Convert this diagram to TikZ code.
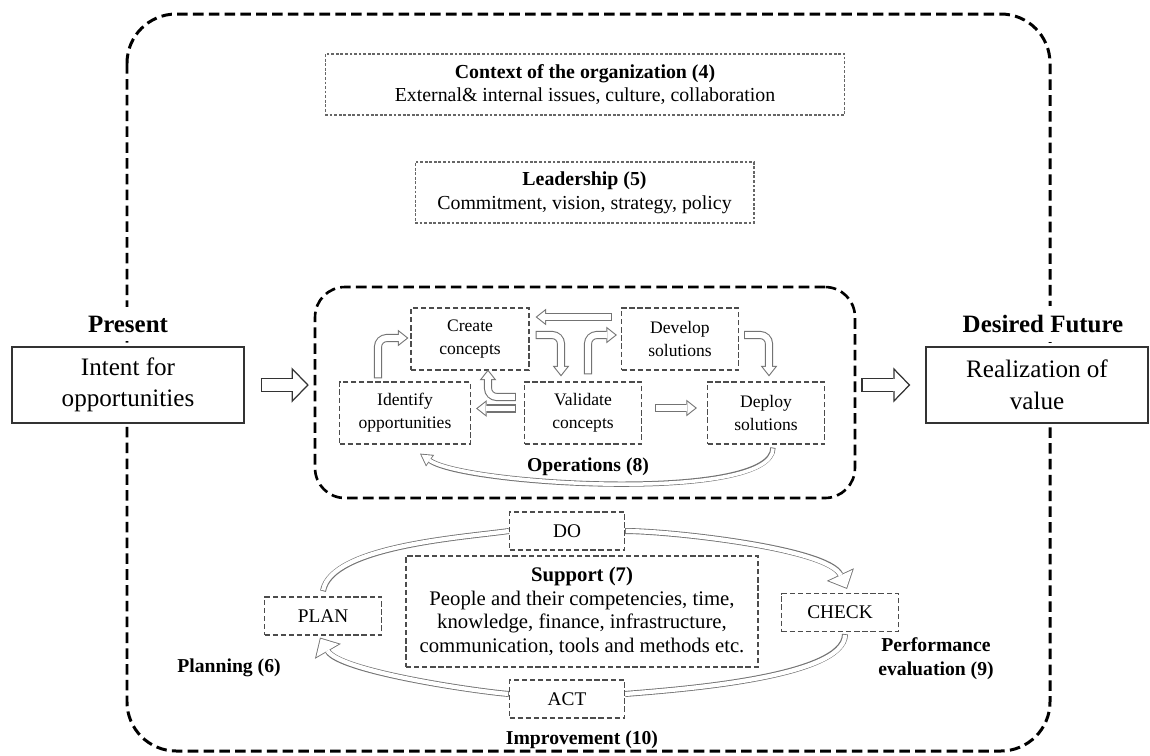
\documentclass[tikz,border=0pt]{standalone}
\usepackage{fontspec}
\setmainfont{Liberation Serif}
\usetikzlibrary{arrows.meta,calc}

% draws a hollow arrow: outer stroke, then white inside
\newcommand{\hollow}[2]{\draw[#1out] #2; \draw[#1in] #2;}

\begin{document}
\begin{tikzpicture}[x=0.02cm, y=-0.02cm,
    frame/.style={line width=1.7pt, dash pattern=on 6pt off 3pt, rounded corners=28pt},
    opsbox/.style={draw, line width=1.5pt, dash pattern=on 6pt off 3pt, rounded corners=17pt, minimum width=10.8cm, minimum height=4.22cm},
    box/.style={draw=black!70, line width=.7pt, dash pattern=on 3pt off 1.6pt, fill=white, align=center, font=\fontsize{10}{13}\selectfont, minimum height=1.24cm},
    ctxbox/.style={draw=black!60, line width=.6pt, dash pattern=on 1.6pt off 1pt, align=center, font=\fontsize{11.3}{13.6}\selectfont, minimum height=1.22cm},
    solidbox/.style={draw=black!80, line width=.8pt, fill=white, align=center, font=\fontsize{14.3}{18}\selectfont, minimum height=1.52cm},
    cyc/.style={box, font=\fontsize{11}{13}\selectfont, minimum width=2.3cm, minimum height=.76cm},
    lbl/.style={font=\bfseries\fontsize{11.2}{13.6}\selectfont, align=center},
    ttl/.style={font=\bfseries\fontsize{14.2}{17}\selectfont, fill=white, inner ysep=5pt},
    opsout/.style={draw=black!55, line width=4.6pt, rounded corners=5pt, -{Triangle[length=6pt, width=9.5pt, line width=0pt]}},
    opsin/.style={draw=white, line width=3.4pt, rounded corners=5pt, shorten <=.6pt, shorten >=.97pt, -{Triangle[length=4.43pt, width=7.02pt, line width=0pt]}},
    loopout/.style={draw=black!55, line width=3pt, -{Triangle[length=7pt, width=8pt, line width=0pt]}},
    loopin/.style={draw=white, line width=2pt, shorten <=.5pt, shorten >=1.01pt, -{Triangle[length=5.49pt, width=6.27pt, line width=0pt]}},
    cycout/.style={draw=black!55, line width=3.4pt, -{Triangle[length=9pt, width=17pt, line width=0pt]}},
    cycin/.style={draw=white, line width=2.4pt, shorten <=.5pt, shorten >=.73pt, -{Triangle[length=7.77pt, width=14.68pt, line width=0pt]}},
    bandout/.style={draw=black!55, line width=3.4pt},
    bandin/.style={draw=white, line width=2.4pt, shorten <=.5pt},
    bigout/.style={draw=black!80, line width=8.5pt, -{Triangle[length=9.7pt, width=20pt, line width=0pt]}},
    bigin/.style={draw=white, line width=6.9pt, shorten <=.8pt, shorten >=1.11pt, -{Triangle[length=7.79pt, width=16.06pt, line width=0pt]}}]
    \useasboundingbox (0,0) rectangle (1150,755);
    \draw[frame] (127,14) rectangle (1050,751);

    \node[ctxbox, minimum width=10.4cm] (ctx) at (585,84.5) {\textbf{Context of the organization (4)}\\External\& internal issues, culture, collaboration};
    \node[ctxbox, minimum width=6.78cm] (lead) at (584.5,192.5) {\textbf{Leadership (5)}\\Commitment, vision, strategy, policy};

    \node[solidbox, minimum width=4.64cm] (intent) at (128,385) {Intent for\\opportunities};
    \node[solidbox, minimum width=4.44cm] (real) at (1037,385) {Realization of\\value};
    \node[ttl] (present) at (128,324) {Present};
    \node[ttl] (future) at (1043,324) {Desired Future};

    \node[opsbox] (ops) at (585,392.5) {};
    \node[box, minimum width=2.36cm] (create) at (470,339) {Create\\concepts};
    \node[box, minimum width=2.34cm] (develop) at (680,339) {Develop\\solutions};
    \node[box, minimum width=2.62cm] (identify) at (405,413) {Identify\\opportunities};
    \node[box, minimum width=2.34cm] (validate) at (583,413) {Validate\\concepts};
    \node[box, minimum width=2.34cm] (deploy) at (766,413) {Deploy\\solutions};
    \node[lbl] (opslbl) at (588,467) {Operations (8)};

    \node[box, minimum width=7.04cm, minimum height=2.22cm, font=\fontsize{11.8}{13.5}\selectfont] (support) at (582,611.5) {\textbf{Support (7)}\\People and their competencies, time,\\knowledge, finance, infrastructure,\\communication, tools and methods etc.};
    \node[cyc] (do) at (567,531) {DO};
    \node[cyc, minimum width=2.34cm] (plan) at (323,616) {PLAN};
    \node[cyc, minimum width=2.34cm] (check) at (840,612.5) {CHECK};
    \node[cyc] (act) at (567,699) {ACT};
    \node[lbl] (planlbl) at (229,668) {Planning (6)};
    \node[lbl] (evallbl) at (936,659) {Performance\\evaluation (9)};
    \node[lbl] (improvlbl) at (582,740) {Improvement (10)};

    \hollow{big}{($(intent.east)+(16,0)$) -- ($(intent.east -| ops.west)+(-5,0)$)}
    \hollow{big}{($(real.west -| ops.east)+(5,0)$) -- ($(real.west)+(-15,0)$)}

    \hollow{ops}{($(identify.north)+(-27,-3)$) |- ($(create.west)+(-2,-1)$)}
    \hollow{ops}{($(develop.west)+(-9,-22)$) -- ($(create.east)+(6,-22)$)}
    \hollow{ops}{($(create.east)+(6,-4)$) -| ($(validate.north)+(-22,-5)$)}
    \hollow{ops}{($(validate.north)+(5,-7)$) |- ($(develop.west)+(-4,-4)$)}
    \hollow{ops}{($(develop.east)+(5,-4)$) -| ($(deploy.north)+(3,-5)$)}
    \hollow{ops}{($(validate.east)+(13,-5)$) -- ($(deploy.west)+(-10,-5)$)}
    \hollow{ops}{($(validate.west)+(-8,-4.5)$) -- ($(identify.east)+(5,-4.5)$)}
    \hollow{ops}{($(validate.west)+(-8,-16)$) -| ($(create.south)+(18,-1)$)}
    \hollow{loop}{($(deploy.south)+(7,3)$) to[out=-90, in=-35, looseness=.4] ($(identify.south)+(15,9)$)}

    \hollow{band}{([yshift=3pt]plan.north) to[out=80, in=188, looseness=.6] (do.west)}
    \hollow{cyc}{(do.east) to[out=0, in=115, looseness=.5] ($(check.north)+(7,-4)$)}
    \hollow{band}{($(check.south)+(5,2)$) to[out=-90, in=5, looseness=.5] ($(act.east)+(0,-5)$)}
    \hollow{cyc}{($(act.west)+(0,-5)$) to[out=175, in=-60, looseness=.5] ($(plan.south)+(-3,2)$)}
\end{tikzpicture}
\end{document}
